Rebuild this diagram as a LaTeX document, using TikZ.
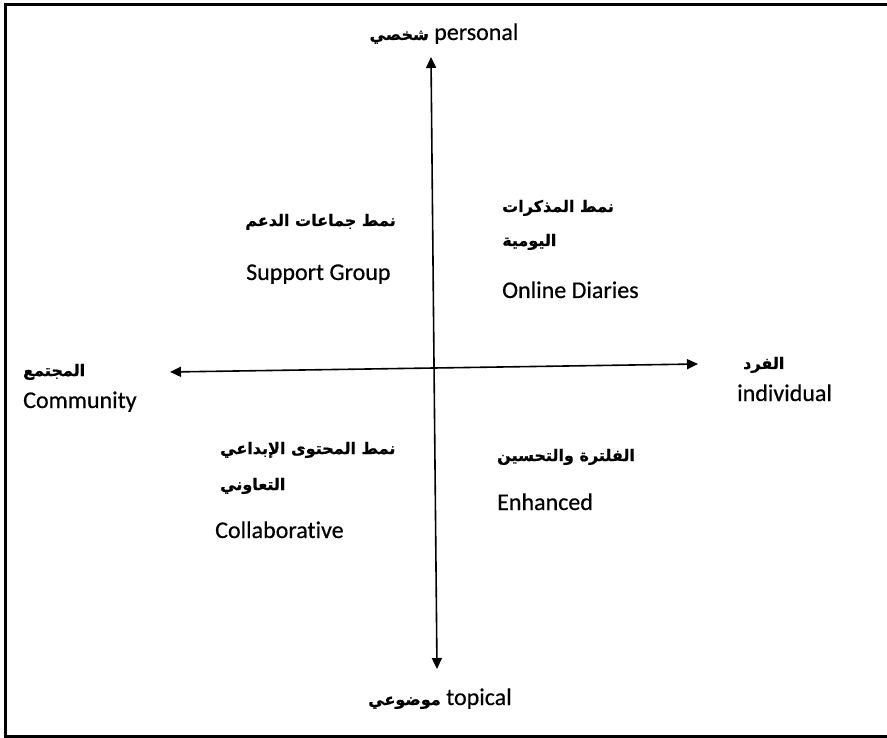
\documentclass[tikz,border=0pt]{standalone}
\usepackage{fontspec}
\setmainfont{Carlito}[Ligatures={NoCommon}, FakeBold=0.6]
\newfontfamily\enfont{Carlito}[Ligatures={NoCommon}, FakeBold=0.5]
\newfontfamily\arabicfont[Script=Arabic, FakeBold=0.8]{DejaVu Sans}
\TeXXeTstate=1
\usetikzlibrary{arrows.meta}
\tikzset{
  axis/.style={line width=1.6pt, {Triangle[length=11pt,width=10pt]}-{Triangle[length=11pt,width=10pt]}},
  en/.style={font=\enfont\fontsize{24}{28}\selectfont, inner sep=0pt},
  ar/.style={font=\arabicfont\bfseries\fontsize{16}{34}\selectfont, inner sep=0pt},
}
\newcommand{\arinl}[1]{{\arabicfont\bfseries\fontsize{16}{20}\selectfont\beginR #1\endR}}
\begin{document}
\begin{tikzpicture}[x=1pt,y=-1pt]
\useasboundingbox (0,0) rectangle (887,738);
% frame
\draw[line width=3pt] (887,4.5) -- (5.5,4.5) -- (5.5,736.5) -- (887,736.5);
% axes
\coordinate (top) at (431,57);
\coordinate (bottom) at (437,669);
\coordinate (left) at (170,372);
\coordinate (right) at (698,364);
\draw[axis] (top) -- (bottom);
\draw[axis] (left) -- (right);
% labels
\node[en, anchor=base] (personal) at (444,40) {\arinl{شخصي} personal};
\node[en, anchor=base] (topical) at (440,705) {\arinl{موضوعي} topical};
\node[ar, anchor=base west] (commAr) at (23,376) {\beginR المجتمع\endR};
\node[en, anchor=base west] (comm) at (23,408) {Community};
\node[ar, anchor=base west] (indAr) at (743,369) {\beginR الفرد\endR};
\node[en, anchor=base west] (ind) at (737,401) {individual};
% quadrant II
\node[ar, anchor=base east] (supAr) at (396,226) {\beginR نمط جماعات الدعم\endR};
\node[en, anchor=base west] (sup) at (246,280) {Support Group};
% quadrant I
\node[ar, anchor=base west] (diaAr1) at (502,212) {\beginR نمط المذكرات\endR};
\node[ar, anchor=base west] (diaAr2) at (502,246) {\beginR اليومية\endR};
\node[en, anchor=base west] (dia) at (502,298) {Online Diaries};
% quadrant III
\node[ar, anchor=base west] (colAr1) at (220,454) {\beginR نمط المحتوى الإبداعي\endR};
\node[ar, anchor=base west] (colAr2) at (220,490) {\beginR التعاوني\endR};
\node[en, anchor=base west] (col) at (215,538) {Collaborative};
% quadrant IV
\node[ar, anchor=base west] (enhAr) at (497,461) {\beginR الفلترة والتحسين\endR};
\node[en, anchor=base west] (enh) at (497,510) {Enhanced};
\end{tikzpicture}
\end{document}
